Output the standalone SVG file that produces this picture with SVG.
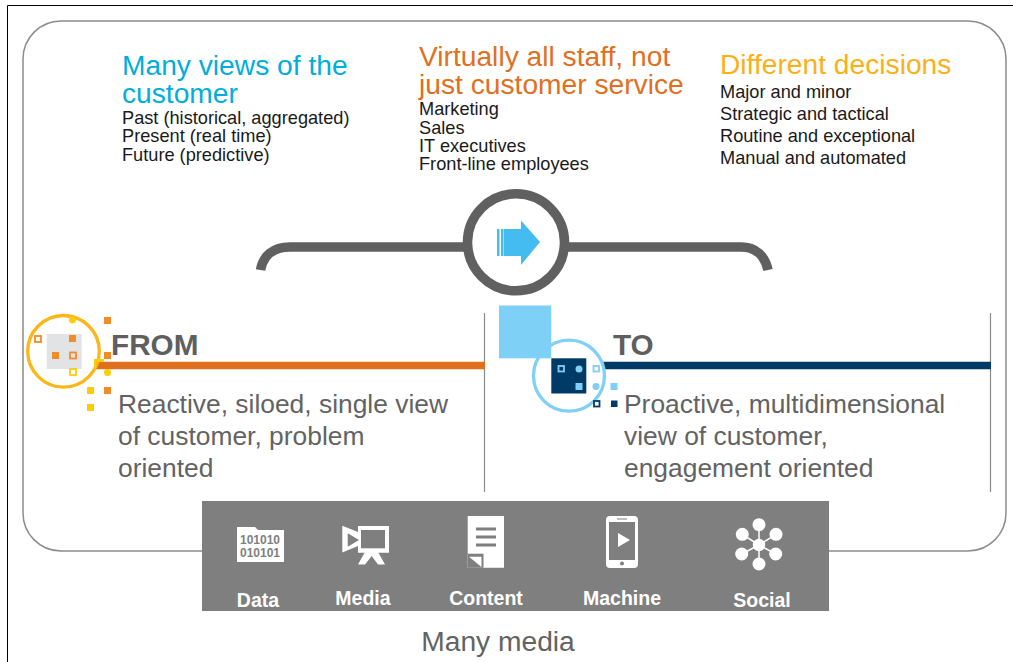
<svg xmlns="http://www.w3.org/2000/svg" width="1013" height="662" viewBox="0 0 1013 662">
<style>
text{font-family:"Liberation Sans",Arial,sans-serif}
.h{font-size:28.200px}
.b{font-size:18.200px;fill:#1a1a1a}
.big{font-size:26.400px;fill:#636363}
.ft{font-size:29.700px;font-weight:bold;fill:#5f5f5f}
.ic{font-size:19.500px;font-weight:bold;fill:#fff;text-anchor:middle}
.bin{font-size:12px;font-weight:bold;fill:#7f7f7f;text-anchor:middle}
.org{fill:#f28c28}
.yel{fill:#ffcb05}
.sky{fill:#7fd0f7}
.navy{fill:#003a66}
.w{fill:#fff}
</style>
<rect width="1013" height="662" fill="#fff"/>
<path d="M7.500 662V5.500H1013" fill="none" stroke="#000" stroke-width="1"/>
<rect x="23" y="21" width="983" height="530" rx="38" fill="#fff" stroke="#8c8c8c" stroke-width="1.500"/>
<g id="views"><text class="h" x="122" y="75" fill="#00aedb">Many views of the</text><text class="h" x="122" y="103" fill="#00aedb">customer</text>
<text class="b" x="122" y="124">Past (historical, aggregated)</text><text class="b" x="122" y="142">Present (real time)</text><text class="b" x="122" y="161">Future (predictive)</text></g>
<g id="staff"><text class="h" x="419" y="66" fill="#e0701e">Virtually all staff, not</text><text class="h" x="419" y="94" fill="#e0701e">just customer service</text>
<text class="b" x="419" y="115">Marketing</text><text class="b" x="419" y="134">Sales</text><text class="b" x="419" y="152">IT executives</text><text class="b" x="419" y="170">Front-line employees</text></g>
<g id="decisions"><text class="h" x="720" y="74" fill="#fbb017">Different decisions</text>
<text class="b" x="720" y="98">Major and minor</text><text class="b" x="720" y="120">Strategic and tactical</text><text class="b" x="720" y="142">Routine and exceptional</text><text class="b" x="720" y="164">Manual and automated</text></g>
<g id="connectors" fill="none">
<path d="M260.500 270C263 256 273 247 290 247H468M566 247H741C756 247 765 256 768 270" stroke="#606060" stroke-width="9.500"/>
<path d="M484.500 313V492M990.500 313V492" stroke="#8a8a8a" stroke-width="1.200"/>
<path d="M96 365.500H485" stroke="#e0701e" stroke-width="7.500"/>
<path d="M603 365.500H991" stroke="#003a66" stroke-width="7.500"/>
</g>
<g id="arrow-node"><circle cx="516" cy="242.300" r="48.500" fill="#fff" stroke="#606060" stroke-width="9.500"/>
<path d="M497 229h2.500v27H497zM501 229h2.500v27h-2.500zM504 229H521V220.500L540 242 521 265V256H504z" fill="#45bcef"/></g>
<g id="from"><rect x="46.700" y="334" width="35" height="35" fill="#e2e3e4"/>
<circle cx="63.500" cy="351.300" r="35.800" fill="none" stroke="#fbb617" stroke-width="3.300"/>
<rect x="104" y="317" width="7" height="7" class="org"/><circle cx="72.500" cy="320" r="3.500" class="yel"/>
<rect x="35" y="336" width="6" height="6" fill="#fff" stroke="#f28c28" stroke-width="1.800"/>
<rect x="69" y="335" width="7" height="7" class="org"/><rect x="52" y="352" width="7" height="7" class="org"/>
<rect x="70" y="352.500" width="6" height="6" fill="none" stroke="#f28c28" stroke-width="1.800"/>
<rect x="70" y="369" width="6" height="6" fill="#fff" stroke="#ffcb05" stroke-width="1.800"/>
<rect x="104" y="352" width="7" height="7" class="org"/><rect x="94" y="359" width="10" height="3" class="yel"/><rect x="94" y="359" width="2" height="10" class="yel"/>
<circle cx="107.500" cy="372.500" r="3.500" class="yel"/>
<rect x="87" y="387" width="7" height="7" class="yel"/><rect x="104" y="387" width="7" height="7" class="org"/><rect x="87" y="404" width="7" height="7" class="yel"/>
<text class="ft" x="111" y="355">FROM</text>
<text class="big" x="118" y="413">Reactive, siloed, single view</text><text class="big" x="118" y="445">of customer, problem</text><text class="big" x="118" y="477">oriented</text></g>
<g id="to"><rect x="499" y="305.500" width="52.300" height="52.800" class="sky"/>
<circle cx="569" cy="375.700" r="35.500" fill="none" stroke="#7fd0f7" stroke-width="3.300"/>
<rect x="551.300" y="358.300" width="35" height="35.200" class="navy"/>
<rect x="558.500" y="366" width="5.500" height="5.500" fill="none" stroke="#7fd0f7" stroke-width="1.800"/>
<circle cx="579" cy="369" r="3.500" class="sky"/><rect x="575.500" y="383" width="7" height="7" class="sky"/>
<rect x="593.500" y="366" width="5.500" height="5.500" fill="#fff" stroke="#7fd0f7" stroke-width="1.800"/>
<circle cx="596" cy="386.500" r="3.500" class="sky"/><rect x="610.500" y="383" width="7" height="7" class="sky"/>
<rect x="594" y="401" width="5.500" height="5.500" fill="#fff" stroke="#003a66" stroke-width="1.800"/><rect x="611" y="400.500" width="6.500" height="6.500" class="navy"/>
<text class="ft" x="613" y="355">TO</text>
<text class="big" x="624" y="413">Proactive, multidimensional</text><text class="big" x="624" y="445">view of customer,</text><text class="big" x="624" y="477">engagement oriented</text></g>
<g id="media"><rect x="202" y="501" width="627" height="110" fill="#7f7f7f"/>
<path d="M237 527H255L258 530H284V562H237z" class="w"/>
<text class="bin" x="260" y="544.300">101010</text><text class="bin" x="260" y="557.300">010101</text>
<path d="M342.300 525.700 358 532V526H389V552.700H358V546L342.300 552.500zM347.700 533.300V546.700L359 540z" class="w" fill-rule="evenodd"/><rect x="361" y="530" width="24" height="18.300" fill="#7f7f7f"/>
<path d="M365 552 358 564.500H365L371.700 556 378 564.500H385L378 552z" class="w"/>
<path d="M467.700 516H504V567.700H467.700z" class="w"/><path d="M467.700 553.700H483.500V567.800H467.700z" fill="#7f7f7f"/><path d="M469 556.700H481.500V567z" class="w"/>
<path d="M476 529H496M476 537H496M476 545H496" stroke="#7f7f7f" stroke-width="3"/>
<rect x="606" y="516" width="32" height="52" rx="4" class="w"/><rect x="609" y="522" width="26" height="38" fill="#7f7f7f"/>
<path d="M618 533 630 540 618 547z" class="w"/><circle cx="622" cy="563.500" r="2" fill="#7f7f7f"/><path d="M617 519H627" stroke="#7f7f7f"/>
<g stroke="#fff" stroke-width="1.500"><path d="M759 545V525M759 545V564M759 545 742.300 534.300M759 545 776 534.300M759 545 741.700 554M759 545 775.700 554"/></g>
<g class="w"><circle cx="759" cy="545" r="6.200"/><circle cx="759" cy="524.700" r="6.500"/><circle cx="759" cy="564" r="6.500"/><circle cx="742.300" cy="534.300" r="6.500"/><circle cx="776" cy="534.300" r="6.500"/><circle cx="741.700" cy="554" r="6.500"/><circle cx="775.700" cy="554" r="6.500"/></g>
<text class="ic" x="258" y="607">Data</text><text class="ic" x="363" y="605">Media</text><text class="ic" x="486" y="605">Content</text><text class="ic" x="622" y="605">Machine</text><text class="ic" x="762" y="607">Social</text>
<text x="498" y="651" text-anchor="middle" style="font-size:28.200px" fill="#636363">Many media</text></g>
</svg>
